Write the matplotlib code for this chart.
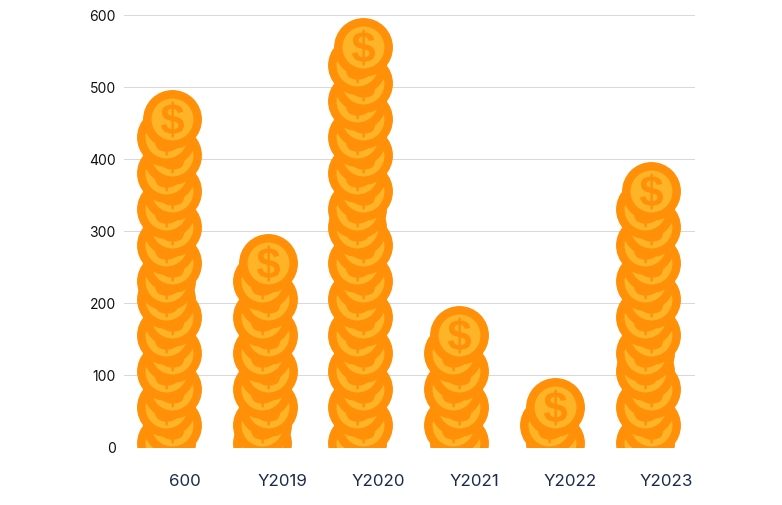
import matplotlib
matplotlib.use("Agg")
import matplotlib.pyplot as plt
from matplotlib.font_manager import FontProperties
from matplotlib.markers import MarkerStyle
from matplotlib.path import Path
from matplotlib.textpath import TextPath
from matplotlib.transforms import ScaledTranslation

# Kategorien und Muenzstapel
categories = ["600", "Y2019", "Y2020", "Y2021", "Y2022", "Y2023"]
y_ticks = [0, 100, 200, 300, 400, 500, 600]

# Muenzen auf der Kategoriemitte
coins_center = [
    [30, 80, 130, 180, 255, 305, 355, 405, 455],
    [55, 105, 155, 205, 255],
    [30, 80, 130, 180, 230, 280, 355, 405, 455, 505, 555],
    [5, 55, 105, 155],
    [5, 55],
    [30, 80, 155, 205, 255, 305, 355],
]
# Muenzen leicht nach links versetzt
coins_shifted = [
    [5, 55, 105, 155, 205, 230, 280, 330, 380, 430],
    [5, 30, 80, 130, 180, 230],
    [5, 55, 105, 155, 205, 255, 305, 330, 380, 430, 480, 530],
    [30, 80, 130],
    [30],
    [5, 55, 105, 130, 180, 230, 280, 330],
]

ORANGE = "#FF9008"
YELLOW = "#FFB326"
W, H = 782, 506
LEFT, RIGHT, TOP, BOTTOM = 124, 695, 15.5, 447.5
BAND = 95.8  # Pixel pro Kategorie

plt.rcParams["font.family"] = ["Inter", "DejaVu Sans"]

fig = plt.figure(figsize=(W / 100, H / 100), dpi=100)
ax = fig.add_axes([LEFT / W, 1 - BOTTOM / H, (RIGHT - LEFT) / W, (BOTTOM - TOP) / H])
ax.set_xlim(-0.5, -0.5 + (RIGHT - LEFT) / BAND)
ax.set_ylim(0, 600)

# Dollarzeichen als Marker
tp = TextPath((0, 0), "$", size=10, prop=FontProperties(family="Liberation Sans", weight="bold"))
bb = tp.get_extents()
dollar = Path(tp.vertices - [bb.x0 + bb.width / 2, bb.y0 + bb.height / 2], tp.codes)
dollar_marker = MarkerStyle(dollar)

step = 6 / BAND
z = 3
for i in range(len(categories)):
    stack = [(v, i) for v in coins_center[i]] + [(v, i - step) for v in coins_shifted[i]]
    # von unten nach oben, obere Muenzen liegen vorne
    for value, x in sorted(stack):
        ax.scatter(x, value, s=42.4**2, color=ORANGE, linewidths=0, zorder=z)
        ax.scatter(x, value, s=30.2**2, color=YELLOW, linewidths=0, zorder=z + 0.1)
        ax.scatter(x, value, s=25.5**2, marker=dollar_marker, color=ORANGE, linewidths=0, zorder=z + 0.2)
        z += 1

ax.set_yticks(y_ticks)
ax.set_xticks(range(len(categories)), categories)
ax.grid(axis="y", color="#D9D9D9", linewidth=0.75, zorder=0)
ax.grid(axis="x", visible=False)
ax.set_axisbelow(True)
for s in ax.spines.values():
    s.set_visible(False)
ax.tick_params(axis="y", length=0, pad=6, labelsize=10, labelcolor="#111111")
ax.tick_params(axis="x", length=0, pad=19, labelsize=12.2, labelcolor="#1B2B4B")

# Beschriftung sitzt rechts neben der Kategoriemitte
label_shift_px = [13, 14.5, 15, 15, 15, 15]
for label, dx in zip(ax.get_xticklabels(), label_shift_px):
    label.set_transform(label.get_transform() + ScaledTranslation(dx / 100, 0, fig.dpi_scale_trans))

fig.savefig("out.png", dpi=100)
